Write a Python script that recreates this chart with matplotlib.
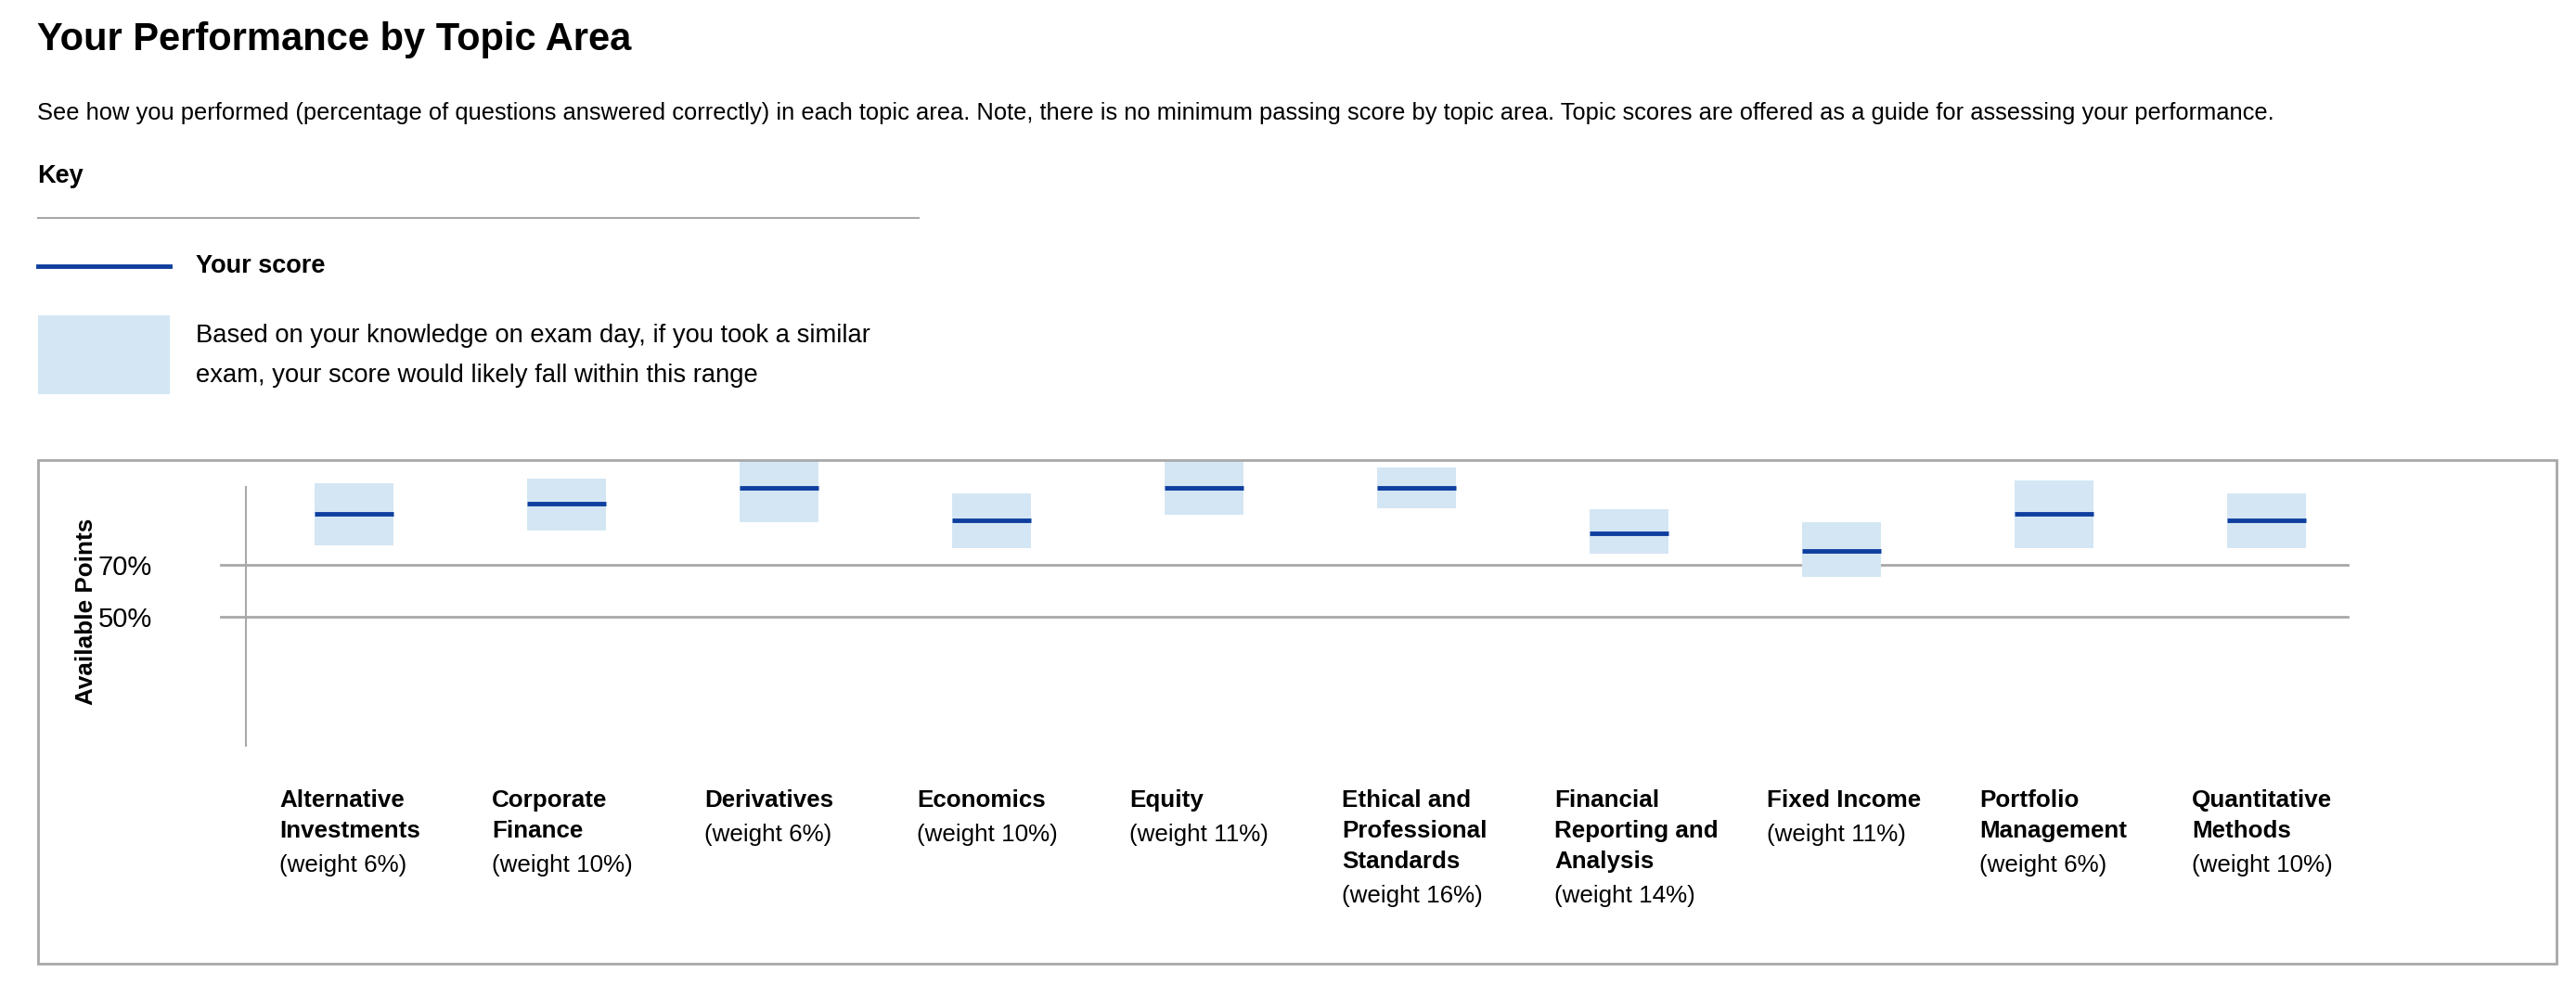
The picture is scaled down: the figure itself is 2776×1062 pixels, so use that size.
import matplotlib.pyplot as plt
from matplotlib.patches import Rectangle
from matplotlib.lines import Line2D
import matplotlib.transforms as mtransforms

plt.rcParams['font.family'] = ['Liberation Sans', 'DejaVu Sans']

# data
names = [["Alternative", "Investments"], ["Corporate", "Finance"], ["Derivatives"],
         ["Economics"], ["Equity"], ["Ethical and", "Professional", "Standards"],
         ["Financial", "Reporting and", "Analysis"], ["Fixed Income"],
         ["Portfolio", "Management"], ["Quantitative", "Methods"]]
weights = [6, 10, 6, 10, 11, 16, 14, 11, 6, 10]
score = [89.5, 93.7, 99.5, 87.0, 99.5, 99.5, 82.0, 75.4, 89.5, 87.0]
low = [77.4, 83.3, 86.5, 76.5, 89.4, 91.6, 74.3, 65.3, 76.5, 76.5]
high = [101.5, 103.3, 112.0, 97.5, 112.0, 107.6, 91.4, 86.4, 102.6, 97.5]
grid_vals = [70, 50]

W, H = 2776, 1062
fig = plt.figure(figsize=(W / 100, H / 100), dpi=100)

def fx(px):
    return px / W

def fy(py):
    return 1 - py / H

dark = '#0f3f9e'
light = '#d4e6f4'
gray = '#a8a8a8'

fig.text(fx(40), fy(43), "Your Performance by Topic Area", fontsize=30, fontweight='bold', va='center')
fig.text(fx(40), fy(122), "See how you performed (percentage of questions answered correctly) in each topic area. "
         "Note, there is no minimum passing score by topic area. Topic scores are offered as a guide for assessing your performance.",
         fontsize=18.4, va='center')
fig.text(fx(40), fy(190), "Key", fontsize=19.5, fontweight='bold', va='center')
fig.add_artist(Line2D([fx(41), fx(990)], [fy(235), fy(235)], color=gray, lw=1.5))
fig.add_artist(Line2D([fx(41), fx(183)], [fy(287), fy(287)], color=dark, lw=3.5))
fig.text(fx(211), fy(287), "Your score", fontsize=19.5, fontweight='bold', va='center')
fig.add_artist(Rectangle((fx(41), fy(425)), fx(142), (425 - 340) / H, color=light, lw=0))
fig.text(fx(211), fy(362), "Based on your knowledge on exam day, if you took a similar", fontsize=19.7, va='center')
fig.text(fx(211), fy(405), "exam, your score would likely fall within this range", fontsize=19.7, va='center')

# outer frame
fig.add_artist(Rectangle((fx(41), fy(1039)), fx(2755 - 41), (1039 - 496) / H,
                         fill=False, edgecolor=gray, lw=2))

# axes: left at 265px, x=0 at 381px, step 229px; y 0 at 804px, 100 at 525px
x_left = -(381 - 265) / 229
x_right = (2530 - 381) / 229
top_val = (804 - 496) / (804 - 525) * 100
ax = fig.add_axes([fx(265), fy(804), fx(2530 - 265), (804 - 496) / H])
ax.set_xlim(x_left, x_right)
ax.set_ylim(0, top_val)
for s in ['top', 'right', 'bottom']:
    ax.spines[s].set_visible(False)
ax.spines['left'].set_bounds(0, 100)
ax.spines['left'].set_color(gray)
ax.spines['left'].set_linewidth(1.5)
ax.set_xticks([])
ax.set_yticks(grid_vals)
ax.set_yticklabels([f"{v}%" for v in grid_vals], fontsize=21)
ax.tick_params(axis='y', length=0, pad=73)
for v in grid_vals:
    ax.plot([x_left - 0.12, x_right], [v, v], color=gray, lw=2, clip_on=False, zorder=1)

hw = 42.5 / 229
for i in range(len(score)):
    ax.add_patch(Rectangle((i - hw, low[i]), 2 * hw, high[i] - low[i], color=light, lw=0, zorder=2))
    ax.plot([i - hw, i + hw], [score[i], score[i]], color=dark, lw=3.5, zorder=3, solid_capstyle='butt')

fig.text(fx(93), fy(659), "Available Points", fontsize=18.8, fontweight='bold', rotation=90, va='center', ha='center')

trans = mtransforms.blended_transform_factory(ax.transData, fig.transFigure)
for i, nm in enumerate(names):
    y = 863
    for line in nm:
        fig.text(i - 0.35, fy(y), line, transform=trans, fontsize=18.7, fontweight='bold', va='center')
        y += 33
    fig.text(i - 0.35, fy(y + 4), f"(weight {weights[i]}%)", transform=trans, fontsize=18.7, va='center')

fig.savefig("out.png", dpi=100)
